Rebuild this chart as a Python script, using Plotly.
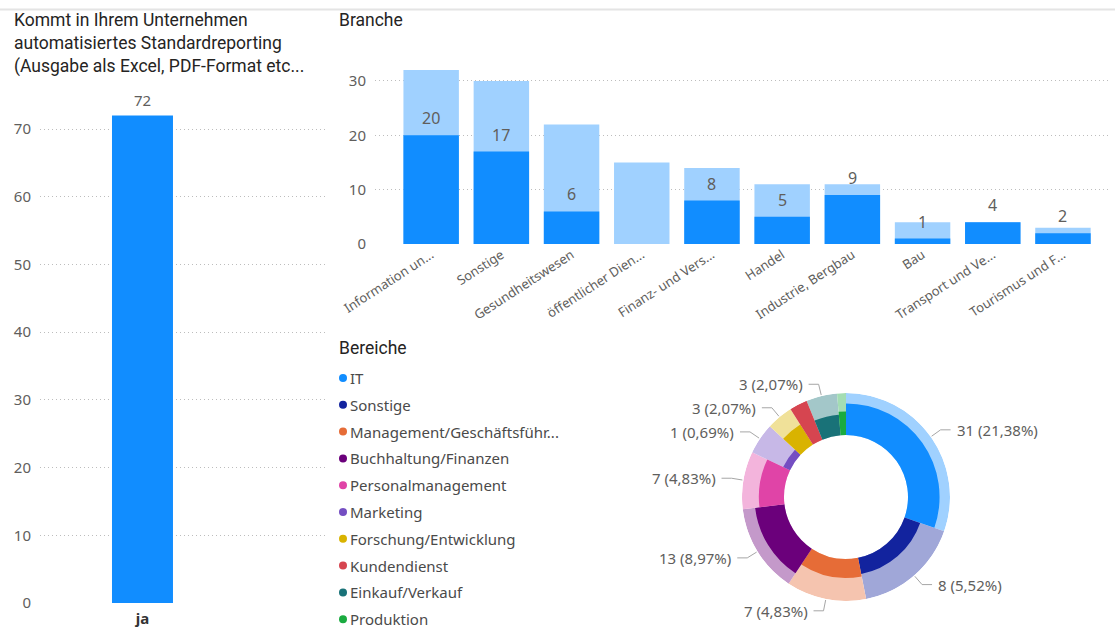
import math
import plotly.graph_objects as go

W, H = 1115, 628

# ---- data -------------------------------------------------------------
answer_cats = ["ja"]
answer_vals = [72]

branchen = ["Information un...", "Sonstige", "Gesundheitswesen", "öffentlicher Dien...",
            "Finanz- und Vers...", "Handel", "Industrie, Bergbau", "Bau",
            "Transport und Ve...", "Tourismus und F..."]
branche_total = [32, 30, 22, 15, 14, 11, 11, 4, 4, 3]
branche_ja = [20, 17, 6, 0, 8, 5, 9, 1, 4, 2]

bereiche = ["IT", "Sonstige", "Management/Geschäftsführ...", "Buchhaltung/Finanzen",
            "Personalmanagement", "Marketing", "Forschung/Entwicklung", "Kundendienst",
            "Einkauf/Verkauf", "Produktion"]
bereich_total = [44, 24, 18, 20, 13, 7, 6, 4, 7, 2]
bereich_ja = [31, 8, 7, 13, 7, 1, 3, 4, 3, 1]
bereich_no_label = {"Kundendienst", "Produktion"}

# ---- styling ------------------------------------------------------------
BLUE = "#118DFF"
BLUE_LIGHT = "#A0D1FF"
PALETTE = ["#118DFF", "#12239E", "#E66C37", "#6B007B", "#E044A7",
           "#744EC2", "#D9B300", "#D64550", "#197278", "#1AAB40"]
TXT = "#605E5C"
TITLE = "#252423"
GRID = "#BDBDBD"
GRID_DASH = "1px,3px"
FONT = "Noto Sans"
TFONT = "Roboto"


def light(hexcol, a=0.4):
    r, g, b = (int(hexcol[i:i + 2], 16) for i in (1, 3, 5))
    mix = lambda c: round(a * c + (1 - a) * 255)
    return f"rgb({mix(r)},{mix(g)},{mix(b)})"


def px(x):
    return x / W


def py(y):
    return 1 - y / H


fig = go.Figure()
annotations = []

# ---- left: answer bar ---------------------------------------------------
fig.add_trace(go.Bar(
    x=answer_cats, y=answer_vals, xaxis="x", yaxis="y",
    marker=dict(color=BLUE, line=dict(width=0)), width=0.214,
    showlegend=False, hoverinfo="skip"))
for c, v in zip(answer_cats, answer_vals):
    annotations.append(dict(x=c, y=v, xref="x", yref="y", text=str(v),
                            showarrow=False, yanchor="bottom", yshift=3,
                            font=dict(size=15, color=TXT, family=FONT)))

# ---- Branche: total (light) with highlighted share (dark) ---------------
fig.add_trace(go.Bar(
    x=branchen, y=branche_total, xaxis="x2", yaxis="y2",
    marker=dict(color=BLUE_LIGHT, line=dict(width=0)), width=0.79,
    showlegend=False, hoverinfo="skip"))
fig.add_trace(go.Bar(
    x=branchen, y=branche_ja, xaxis="x2", yaxis="y2",
    marker=dict(color=BLUE, line=dict(width=0)), width=0.79,
    showlegend=False, hoverinfo="skip"))
for c, v in zip(branchen, branche_ja):
    if v:
        annotations.append(dict(x=c, y=v, xref="x2", yref="y2", text=str(v),
                                showarrow=False, yanchor="bottom", yshift=4,
                                font=dict(size=16, color=TXT, family=FONT)))

# ---- Bereiche: donut built from polar bars ------------------------------
CX, CY, R_OUT, R_IN = 846, 497, 104, 62
total = sum(bereich_total)
widths = [v * 360 / total for v in bereich_total]
mids, acc = [], 0.0
for w in widths:
    mids.append(acc + w / 2)
    acc += w

# highlighted share drawn as area-proportional inner ring
inner_r = [math.sqrt(R_IN ** 2 + (R_OUT ** 2 - R_IN ** 2) * j / t)
           for j, t in zip(bereich_ja, bereich_total)]

fig.add_trace(go.Barpolar(
    theta=mids, width=widths, r=[R_OUT - R_IN] * len(mids), base=R_IN,
    marker=dict(color=[light(c) for c in PALETTE], line=dict(width=0)),
    subplot="polar", showlegend=False, hoverinfo="skip"))
fig.add_trace(go.Barpolar(
    theta=mids, width=widths, r=[r - R_IN for r in inner_r], base=R_IN,
    marker=dict(color=PALETTE, line=dict(width=0)),
    subplot="polar", showlegend=False, hoverinfo="skip"))

# leader lines and labels for the donut (pixel overlay axes)
lx, ly = [], []
for name, j, m in zip(bereiche, bereich_ja, mids):
    if name in bereich_no_label:
        continue
    a = math.radians(m)
    sx, sy = math.sin(a), -math.cos(a)
    p1 = (CX + (R_OUT + 1) * sx, CY + (R_OUT + 1) * sy)
    p2 = (CX + (R_OUT + 12) * sx, CY + (R_OUT + 12) * sy)
    side = 1 if sx >= 0 else -1
    p3 = (p2[0] + side * 10, p2[1])
    lx += [p1[0], p2[0], p3[0], None]
    ly += [p1[1], p2[1], p3[1], None]
    pct = f"{j / total * 100:.2f}".replace(".", ",")
    annotations.append(dict(
        x=p3[0] + side * 4, y=p3[1], xref="x3", yref="y3",
        text=f"{j} ({pct}%)", showarrow=False,
        xanchor="left" if side > 0 else "right", yanchor="middle",
        font=dict(size=15, color=TXT, family=FONT)))

fig.add_trace(go.Scatter(
    x=lx, y=ly, xaxis="x3", yaxis="y3", mode="lines",
    line=dict(color="#A6A6A6", width=1), showlegend=False, hoverinfo="skip"))

# legend for Bereiche
leg_y = [378 + i * 26.8 for i in range(len(bereiche))]
fig.add_trace(go.Scatter(
    x=[343] * len(bereiche), y=leg_y, xaxis="x3", yaxis="y3", mode="markers",
    marker=dict(color=PALETTE, size=8), showlegend=False, hoverinfo="skip"))
for name, yy in zip(bereiche, leg_y):
    annotations.append(dict(
        x=348, y=yy, xref="x3", yref="y3", text=name, showarrow=False,
        xanchor="left", yanchor="middle",
        font=dict(size=15, color="#4A4A4A", family=FONT)))

# titles
annotations += [
    dict(x=px(12), y=py(8), xref="paper", yref="paper", xanchor="left", yanchor="top",
         align="left", showarrow=False,
         text="Kommt in Ihrem Unternehmen<br>automatisiertes Standardreporting<br>"
              "(Ausgabe als Excel, PDF-Format etc...",
         font=dict(size=17.5, color=TITLE, family=TFONT)),
    dict(x=px(337), y=py(8), xref="paper", yref="paper", xanchor="left", yanchor="top",
         showarrow=False, text="Branche", font=dict(size=17.5, color=TITLE, family=TFONT)),
    dict(x=px(337), y=py(336), xref="paper", yref="paper", xanchor="left", yanchor="top",
         showarrow=False, text="Bereiche", font=dict(size=17.5, color=TITLE, family=TFONT)),
]

axis_common = dict(showline=False, zeroline=False, fixedrange=True, automargin=False)

fig.update_layout(
    width=W, height=H, margin=dict(l=0, r=0, t=0, b=0, autoexpand=False),
    paper_bgcolor="white", plot_bgcolor="rgba(0,0,0,0)", barmode="overlay",
    font=dict(family=FONT, color=TXT),
    xaxis=dict(domain=[px(40), px(325)], anchor="y", type="category",
               range=[-0.3596, 0.6404], showgrid=False, ticks="",
               ticklabelstandoff=5,
               tickfont=dict(size=15, color="#333333", family=FONT, weight="bold"),
               **axis_common),
    yaxis=dict(domain=[py(603), py(88.4)], anchor="x", range=[0, 76],
               tickvals=[0, 10, 20, 30, 40, 50, 60, 70], showgrid=True,
               gridcolor=GRID, griddash=GRID_DASH, gridwidth=1, ticks="",
               ticklabelstandoff=8,
               tickfont=dict(size=15, color=TXT, family=FONT), **axis_common),
    xaxis2=dict(domain=[px(375), px(1110)], anchor="y2", type="category",
                range=[-0.80, 9.67], showgrid=False, ticks="", tickangle=-33,
                tickfont=dict(size=13, color=TXT, family=FONT), **axis_common),
    yaxis2=dict(domain=[py(244), py(53.8)], anchor="x2", range=[0, 35],
                tickvals=[0, 10, 20, 30], showgrid=True, gridcolor=GRID,
                griddash=GRID_DASH, gridwidth=1, ticks="", ticklabelstandoff=8,
                tickfont=dict(size=15, color=TXT, family=FONT), **axis_common),
    xaxis3=dict(domain=[0, 1], anchor="y3", range=[0, W], visible=False,
                fixedrange=True, automargin=False),
    yaxis3=dict(domain=[0, 1], anchor="x3", range=[H, 0], visible=False,
                fixedrange=True, automargin=False),
    polar=dict(
        domain=dict(x=[px(CX - R_OUT), px(CX + R_OUT)], y=[py(CY + R_OUT), py(CY - R_OUT)]),
        bgcolor="rgba(0,0,0,0)",
        radialaxis=dict(range=[0, R_OUT], visible=False),
        angularaxis=dict(rotation=90, direction="clockwise", visible=False),
        barmode="overlay", bargap=0),
    annotations=annotations,
    shapes=[dict(type="line", xref="paper", yref="paper", x0=0, x1=1,
                 y0=py(9.5), y1=py(9.5), line=dict(color="#E4E4E4", width=2))],
)

fig.write_html("out.html")
